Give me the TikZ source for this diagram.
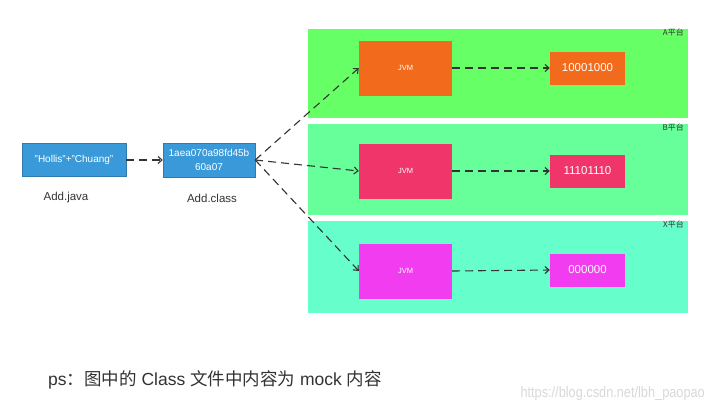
\documentclass[tikz,border=0pt]{standalone}
\usepackage{fontspec}
\setmainfont{Liberation Sans}
\newfontfamily\cjk{Noto Sans CJK SC}
\newfontfamily\narrow[FakeStretch=0.85]{Liberation Sans}
\usetikzlibrary{arrows.meta}
\definecolor{panelA}{HTML}{66FF66}
\definecolor{panelB}{HTML}{66FF99}
\definecolor{panelX}{HTML}{66FFCC}
\definecolor{boxblue}{HTML}{3A9AD9}
\definecolor{jvmA}{HTML}{F26A1B}
\definecolor{jvmB}{HTML}{F0356A}
\definecolor{jvmX}{HTML}{F23CF0}
\definecolor{txtgray}{HTML}{333333}
\tikzset{
  panel/.style={draw=white, line width=1pt, minimum width=381pt, anchor=north west, inner sep=0pt},
  filebox/.style={fill=boxblue, draw=boxblue!80!black, line width=0.4pt, text=white, font=\fontsize{10}{14}\selectfont, align=center, inner sep=0pt},
  jvmbox/.style={minimum width=93pt, minimum height=55pt, text=white, font=\fontsize{7.5}{8}\selectfont, inner sep=0pt},
  resbox/.style={minimum width=75pt, minimum height=33pt, text=white, font=\fontsize{11.5}{13}\selectfont, inner sep=0pt},
  flow/.style={dash pattern=on 8pt off 5pt, line width=1.1pt, draw=txtgray, -{Straight Barb[length=4pt,width=7pt]}},
  cornerlbl/.style={font=\cjk\fontsize{8}{9}\selectfont, text=txtgray, anchor=north east, inner sep=0pt},
  filelbl/.style={font=\fontsize{11.5}{13}\selectfont, text=txtgray}
}
\begin{document}
\begin{tikzpicture}[x=1pt,y=-1pt]
\useasboundingbox[fill=white] (0,0) rectangle (708,410);
% panels
\node[panel, fill=panelA, minimum height=90pt] (pA) at (307,28) {};
\node[panel, fill=panelB, minimum height=92pt] (pB) at (307,123) {};
\node[panel, fill=panelX, minimum height=93pt] (pX) at (307,220) {};
\node[cornerlbl] (lA) at (684,29) {A平台};
\node[cornerlbl] (lB) at (684,124) {B平台};
\node[cornerlbl] (lX) at (684,221) {X平台};
% files
\node[filebox, minimum width=104pt, minimum height=33pt] (java) at (74,160) {"Hollis"+"Chuang"};
\node[filebox, minimum width=92pt, minimum height=34pt] (class) at (209,160) {1aea070a98fd45b\\60a07};
\node[filelbl] (jl) at (66,198) {Add.java};
\node[filelbl] (cl) at (212,198) {Add.class};
% JVMs
\node[jvmbox, fill=jvmA] (jA) at (405.5,68) {JVM};
\node[jvmbox, fill=jvmB] (jB) at (405.5,171) {JVM};
\node[jvmbox, fill=jvmX] (jX) at (405.5,271) {JVM};
\node[resbox, fill=jvmA] (rA) at (587.5,68) {10001000};
\node[resbox, fill=jvmB] (rB) at (587.5,171) {11101110};
\node[resbox, fill=jvmX] (rX) at (587.5,270) {000000};
% arrows
\draw[flow] (java.east) -- (class.west);
\draw[flow] (class.east) -- (jA.west);
\draw[flow] (class.east) -- (jB.west);
\draw[flow] (class.east) -- (jX.west);
\draw[flow] (jA.east) -- (rA.west);
\draw[flow] (jB.east) -- (rB.west);
\draw[flow] (jX.east) -- (rX.west);
% note
\node[anchor=west, font=\fontsize{17.5}{20}\selectfont, text=txtgray, inner sep=0pt] (note) at (48,380) {ps{\cjk ：图中的} Class {\cjk 文件中内容为} mock {\cjk 内容}};
\node[anchor=east, font=\narrow\fontsize{15}{17}\selectfont, text=black!15, inner sep=0pt] (wm) at (705,394) {https://blog.csdn.net/lbh\_paopao};
\end{tikzpicture}
\end{document}
